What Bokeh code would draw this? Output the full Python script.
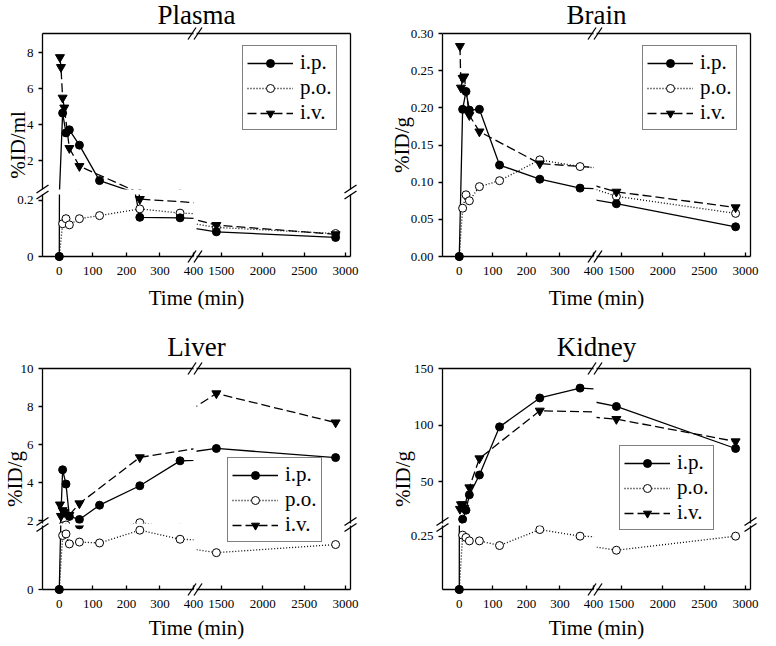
import numpy as np
from bokeh.plotting import figure
from bokeh.models import Range1d, LinearAxis, FixedTicker, Legend, LegendItem, GridBox
from bokeh.core.properties import value
from bokeh.embed import file_html
from bokeh.resources import INLINE

# ------------------------------------------------------------------ data
TIME_IP_PO = [0, 10, 20, 30, 60, 120, 240, 360, 1440, 2880]
TIME_IV = [2, 5, 10, 15, 30, 60, 240, 1440, 2880]

PLASMA_IP = [0, 4.65, 3.55, 3.72, 2.87, 0.90, 0.140, 0.138, 0.088, 0.068]
PLASMA_PO = [0, 0.117, 0.135, 0.113, 0.135, 0.146, 0.170, 0.155, 0.104, 0.082]
PLASMA_IV = [7.75, 7.20, 5.50, 4.95, 2.70, 1.70, 0.205, 0.112, 0.079]

BRAIN_IP = [0, 0.198, 0.222, 0.197, 0.198, 0.123, 0.104, 0.092, 0.071, 0.040]
BRAIN_PO = [0, 0.065, 0.083, 0.075, 0.094, 0.102, 0.130, 0.121, 0.081, 0.058]
BRAIN_IV = [0.283, 0.227, 0.240, 0.242, 0.190, 0.168, 0.125, 0.087, 0.066]

LIVER_IP = [0, 4.68, 3.93, 2.23, 2.07, 2.82, 3.84, 5.15, 5.80, 5.32]
LIVER_PO = [0, 1.73, 1.78, 1.46, 1.52, 1.49, 1.90, 1.61, 1.18, 1.44]
LIVER_IV = [2.85, 2.25, 2.55, 2.45, 2.30, 2.91, 5.33, 8.69, 7.16]

KIDNEY_IP = [0, 17, 25, 38.5, 56, 98.5, 124, 132.7, 116.5, 79.4]
KIDNEY_PO = [0, 0.255, 0.244, 0.228, 0.228, 0.206, 0.281, 0.250, 0.184, 0.250]
KIDNEY_IV = [26, 30, 30, 27, 45, 70.6, 112.7, 105.3, 85.6]

SERIES_NAMES = ["i.p.", "p.o.", "i.v."]

X_TICKS_EARLY = [0, 100, 200, 300, 400]
X_LABELS_EARLY = ["0", "100", "200", "300", "400"]
X_TICKS_LATE = [1500, 2000, 2500, 3000]
X_LABELS_LATE = ["1500", "2000", "2500", "3000"]

PLASMA_YT_UP = [2, 4, 6, 8]
PLASMA_YL_UP = ["2", "4", "6", "8"]
PLASMA_YT_LO = [0, 0.2]
PLASMA_YL_LO = ["0", "0.2"]
BRAIN_YT = [0, 0.05, 0.10, 0.15, 0.20, 0.25, 0.30]
BRAIN_YL = ["0.00", "0.05", "0.10", "0.15", "0.20", "0.25", "0.30"]
LIVER_YT_UP = [2, 4, 6, 8, 10]
LIVER_YL_UP = ["2", "4", "6", "8", "10"]
LIVER_YT_LO = [0]
LIVER_YL_LO = ["0"]
KIDNEY_YT_UP = [50, 100, 150]
KIDNEY_YL_UP = ["50", "100", "150"]
KIDNEY_YT_LO = [0.25]
KIDNEY_YL_LO = ["0.25"]

# ------------------------------------------------------------------ layout
W, H = 760, 642
FONT = "Liberation Serif"
LW = 1.3
EXT = 6
LEG_H = 81
X_EARLY = (-50, 400)
X_LATE = (1200, 3060)

PANELS = [
    dict(title="Plasma", ylabel="%ID/ml", ip=PLASMA_IP, po=PLASMA_PO, iv=PLASMA_IV,
         frame=(42, 350, 33, 256), split_x=(193, 196), split_y=(189, 194),
         y_up=(0.406, 9.07), y_lo=(0, 0.2214),
         yt_up=PLASMA_YT_UP, yl_up=PLASMA_YL_UP, yt_lo=PLASMA_YT_LO, yl_lo=PLASMA_YL_LO,
         title_xy=(196, 14), xlab_xy=(196, 297), ylab_xy=(17, 144.5), legend=(242, 49)),
    dict(title="Brain", ylabel="%ID/g", ip=BRAIN_IP, po=BRAIN_PO, iv=BRAIN_IV,
         frame=(442, 750, 33, 256), split_x=(593, 596), split_y=None,
         y_up=(0, 0.30), y_lo=None,
         yt_up=BRAIN_YT, yl_up=BRAIN_YL, yt_lo=None, yl_lo=None,
         title_xy=(596, 14), xlab_xy=(596, 297), ylab_xy=(401, 144.5), legend=(642, 49)),
    dict(title="Liver", ylabel="%ID/g", ip=LIVER_IP, po=LIVER_PO, iv=LIVER_IV,
         frame=(42, 350, 368, 589), split_x=(193, 196), split_y=(523, 525),
         y_up=(1.858, 10), y_lo=(0, 2.05),
         yt_up=LIVER_YT_UP, yl_up=LIVER_YL_UP, yt_lo=LIVER_YT_LO, yl_lo=LIVER_YL_LO,
         title_xy=(196, 346), xlab_xy=(196, 627), ylab_xy=(14, 478.5), legend=(227, 461)),
    dict(title="Kidney", ylabel="%ID/g", ip=KIDNEY_IP, po=KIDNEY_PO, iv=KIDNEY_IV,
         frame=(442, 750, 368, 589), split_x=(593, 596), split_y=(523, 525),
         y_up=(13.2, 150), y_lo=(0, 0.30),
         yt_up=KIDNEY_YT_UP, yl_up=KIDNEY_YL_UP, yt_lo=KIDNEY_YT_LO, yl_lo=KIDNEY_YL_LO,
         title_xy=(596, 346), xlab_xy=(596, 627), ylab_xy=(402, 478.5), legend=(619, 449)),
]


def mkfig(xr, yr, l, r, t, b):
    return figure(width=W, height=H, x_range=Range1d(*xr), y_range=Range1d(*yr),
                  x_axis_type=None, y_axis_type=None, title=None,
                  output_backend="svg", toolbar_location=None, frame_align=False,
                  min_border_left=l, min_border_right=W - r,
                  min_border_top=t, min_border_bottom=H - b,
                  background_fill_color=None, border_fill_color=None,
                  outline_line_color=None)


def add_axis(p, side, ticks=None, labels=None):
    kw = dict(axis_line_color="black", axis_line_width=LW,
              minor_tick_line_color=None, major_tick_line_color="black",
              major_tick_line_width=LW, major_label_text_font=FONT,
              major_label_text_color="black", major_label_text_font_size="13px")
    if ticks is None:
        ax = LinearAxis(ticker=FixedTicker(ticks=[], minor_ticks=[]),
                        major_tick_in=0, major_tick_out=0, major_label_standoff=0, **kw)
        ax.major_label_text_font_size = "0px"
        ax.major_tick_line_color = None
    else:
        ax = LinearAxis(ticker=FixedTicker(ticks=list(ticks), minor_ticks=[]),
                        major_label_overrides={float(t): s for t, s in zip(ticks, labels)},
                        **kw)
        if side == "below":
            ax.major_tick_in = 4
            ax.major_tick_out = 0
            ax.major_label_standoff = 10
        else:
            ax.major_tick_in = 0
            ax.major_tick_out = 4
            ax.major_label_standoff = 5
    p.add_layout(ax, side)


STYLE_IP_LINE = dict(line_color="black", line_width=LW)
STYLE_PO_LINE = dict(line_color="black", line_width=LW, line_dash="1 2")
STYLE_IV_LINE = dict(line_color="black", line_width=LW, line_dash="9 4")
STYLE_IP_PT = dict(marker="circle", size=8, fill_color="black", line_color="black", line_width=1)
STYLE_PO_PT = dict(marker="circle", size=8, fill_color="white", line_color="black", line_width=1)
STYLE_IV_PT = dict(marker="inverted_triangle", size=9, fill_color="black", line_color="black", line_width=1)


def draw_series(p, ip, po, iv):
    p.line(TIME_IP_PO, po, **STYLE_PO_LINE)
    p.line(TIME_IV, iv, **STYLE_IV_LINE)
    p.line(TIME_IP_PO, ip, **STYLE_IP_LINE)
    p.scatter(TIME_IP_PO, po, **STYLE_PO_PT)
    p.scatter(TIME_IV, iv, **STYLE_IV_PT)
    p.scatter(TIME_IP_PO, ip, **STYLE_IP_PT)


def legend_fig(sp):
    """A transparent figure covering the whole panel frame that carries the key.
    Its key renderers hold one point lying outside the visible range."""
    l, r, t, b = sp["frame"]
    p = mkfig((0, 1), (0, 1), l, r, t, b)
    ox, oy = [-5, -4], [-5, -5]
    rends = [
        [p.line(ox, oy, **STYLE_IP_LINE), p.scatter(ox[:1], oy[:1], **STYLE_IP_PT)],
        [p.line(ox, oy, **STYLE_PO_LINE), p.scatter(ox[:1], oy[:1], **STYLE_PO_PT)],
        [p.line(ox, oy, **STYLE_IV_LINE), p.scatter(ox[:1], oy[:1], **STYLE_IV_PT)],
    ]
    bx, by = sp["legend"]
    leg = Legend(items=[LegendItem(label=value(n), renderers=rr) for n, rr in zip(SERIES_NAMES, rends)],
                 location=(bx - l, b - (by + LEG_H)),
                 orientation="vertical", label_text_font=FONT, label_text_font_size="21px",
                 label_text_color="black", glyph_width=46, glyph_height=20, label_height=20,
                 label_standoff=7, padding=4, spacing=0, margin=0,
                 border_line_color="black", border_line_width=LW,
                 background_fill_color="white", background_fill_alpha=1.0)
    p.add_layout(leg)
    return p


def build_panel(sp):
    l, r, t, b = sp["frame"]
    xa, xb = sp["split_x"]
    ip, po, iv = sp["ip"], sp["po"], sp["iv"]
    figs = []
    if sp["split_y"]:
        ya, yb = sp["split_y"]
        y_up, y_lo = sp["y_up"], sp["y_lo"]
        ppu = (b - yb) / (y_lo[1] - y_lo[0])
        y_lo_ext = (y_lo[0] - EXT / ppu, y_lo[1])

        ll_ax = mkfig(X_EARLY, y_lo, l, xa, yb, b)
        add_axis(ll_ax, "left", sp["yt_lo"], sp["yl_lo"])
        add_axis(ll_ax, "below", X_TICKS_EARLY, X_LABELS_EARLY)
        lr_ax = mkfig(X_LATE, y_lo, xb, r, yb, b)
        add_axis(lr_ax, "below", X_TICKS_LATE, X_LABELS_LATE)
        add_axis(lr_ax, "right")

        ll = mkfig(X_EARLY, y_lo_ext, l, xa, yb, b + EXT)
        draw_series(ll, ip, po, iv)
        lr = mkfig(X_LATE, y_lo_ext, xb, r, yb, b + EXT)
        draw_series(lr, ip, po, iv)

        ul = mkfig(X_EARLY, y_up, l, xa, t, ya)
        add_axis(ul, "left", sp["yt_up"], sp["yl_up"])
        add_axis(ul, "above")
        draw_series(ul, ip, po, iv)
        ur = mkfig(X_LATE, y_up, xb, r, t, ya)
        add_axis(ur, "above")
        add_axis(ur, "right")
        draw_series(ur, ip, po, iv)
        figs += [ll_ax, lr_ax, ll, lr, ul, ur]
    else:
        y = sp["y_up"]
        ppu = (b - t) / (y[1] - y[0])
        y_ext = (y[0] - EXT / ppu, y[1])
        l_ax = mkfig(X_EARLY, y, l, xa, t, b)
        add_axis(l_ax, "left", sp["yt_up"], sp["yl_up"])
        add_axis(l_ax, "below", X_TICKS_EARLY, X_LABELS_EARLY)
        add_axis(l_ax, "above")
        r_ax = mkfig(X_LATE, y, xb, r, t, b)
        add_axis(r_ax, "below", X_TICKS_LATE, X_LABELS_LATE)
        add_axis(r_ax, "above")
        add_axis(r_ax, "right")
        ld = mkfig(X_EARLY, y_ext, l, xa, t, b + EXT)
        draw_series(ld, ip, po, iv)
        rd = mkfig(X_LATE, y_ext, xb, r, t, b + EXT)
        draw_series(rd, ip, po, iv)
        figs += [l_ax, r_ax, ld, rd]
    figs.append(legend_fig(sp))
    return figs


def break_marks(sp):
    l, r, t, b = sp["frame"]
    xa, xb = sp["split_x"]
    segs = []
    gx = (xa + xb) / 2
    for yy in (t, b):
        for cx in (gx - 3, gx + 3):
            segs.append((cx - 4, yy + 6, cx + 4, yy - 6))
    if sp["split_y"]:
        ya, yb = sp["split_y"]
        gy = (ya + yb) / 2
        for xx in (l, r):
            for cy in (gy - 3, gy + 3):
                segs.append((xx - 6, cy + 4, xx + 6, cy - 4))
    return segs


all_figs = []
for sp in PANELS:
    all_figs += build_panel(sp)

# overlay: titles, axis titles and axis-break marks
ov = figure(width=W, height=H, x_range=Range1d(0, W), y_range=Range1d(H, 0),
            x_axis_type=None, y_axis_type=None, title=None,
            output_backend="svg", toolbar_location=None, frame_align=False,
            min_border_left=0, min_border_right=0, min_border_top=0, min_border_bottom=0,
            background_fill_color=None, border_fill_color=None, outline_line_color=None)

ov.text(x=[sp["title_xy"][0] for sp in PANELS], y=[sp["title_xy"][1] for sp in PANELS],
        text=[sp["title"] for sp in PANELS], text_font=value(FONT), text_font_size="27px",
        text_align="center", text_baseline="alphabetic", text_color="black")
ov.text(x=[sp["xlab_xy"][0] for sp in PANELS], y=[sp["xlab_xy"][1] for sp in PANELS],
        text=["Time (min)"] * len(PANELS), text_font=value(FONT), text_font_size="21px",
        text_align="center", text_baseline="alphabetic", text_color="black")
ov.text(x=[sp["ylab_xy"][0] for sp in PANELS], y=[sp["ylab_xy"][1] for sp in PANELS],
        text=[sp["ylabel"] for sp in PANELS], text_font=value(FONT), text_font_size="21px",
        text_align="center", text_baseline="alphabetic", text_color="black",
        angle=np.pi / 2)

segs = [s for sp in PANELS for s in break_marks(sp)]
ov.segment(x0=[s[0] for s in segs], y0=[s[1] for s in segs],
           x1=[s[2] for s in segs], y1=[s[3] for s in segs],
           line_color="black", line_width=LW)

all_figs.append(ov)

grid = GridBox(children=[(f, 0, 0) for f in all_figs], spacing=0)

open("out.html", "w").write(file_html(grid, INLINE))
